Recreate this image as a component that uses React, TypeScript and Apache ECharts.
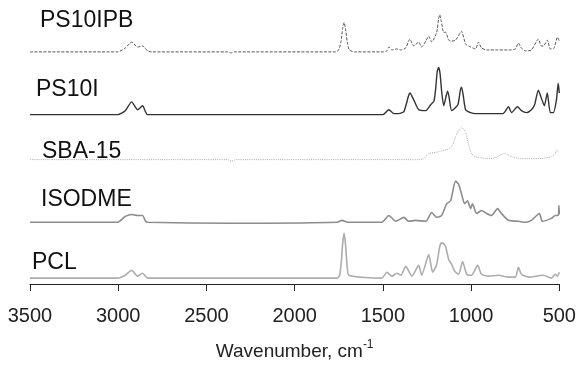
import React, { useEffect, useRef } from "react";
import * as echarts from "echarts";

// Spectrum names (top to bottom)
const names = ["PS10IPB", "PS10I", "SBA-15", "ISODME", "PCL"];

// Vertical stacking offsets (absorbance units, arbitrary)
const offsets = [237, 173, 127, 63, 6];

// [wavenumber cm-1, relative intensity]
const ps10ipb: [number, number][] = [
  [3500, 0], [3003, 0], [2960, 4], [2924, 10], [2890, 5], [2862, 6], [2833, 1], [2811, 0],
  [2380, 0], [2359, -1], [2340, 0], [1770, 0], [1750, 2], [1738, 10], [1728, 24], [1720, 30],
  [1712, 24], [1702, 10], [1690, 2], [1660, 0], [1500, 0], [1477, 1], [1466, 5], [1449, 2],
  [1421, 3], [1398, 2], [1370, 4], [1355, 11], [1347, 13], [1325, 6], [1297, 10], [1280, 5],
  [1257, 11], [1240, 16], [1223, 10], [1195, 20], [1184, 34], [1178, 38], [1170, 32], [1155, 20],
  [1144, 20], [1127, 12], [1110, 11], [1088, 12], [1060, 20], [1054, 21], [1031, 8], [1003, 5],
  [975, 3], [958, 10], [941, 4], [912, 2], [850, 2], [771, 2], [749, 3], [732, 9],
  [715, 4], [692, 1], [658, 2], [619, 13], [602, 6], [590, 6], [568, 12], [551, 3],
  [534, 3], [517, 12], [511, 15], [500, 11],
];

const ps10i: [number, number][] = [
  [3500, 0], [3003, 0], [2960, 4], [2924, 13], [2890, 5], [2862, 9], [2833, 0], [1500, 0],
  [1466, 5], [1438, 1], [1410, 1], [1381, 3], [1355, 19], [1347, 22], [1325, 15], [1297, 5],
  [1257, 4], [1229, 10], [1210, 14], [1200, 28], [1192, 44], [1184, 48], [1176, 42], [1166, 22],
  [1155, 9], [1140, 20], [1133, 24], [1125, 18], [1110, 4], [1075, 10], [1062, 24], [1054, 28],
  [1045, 20], [1031, 5], [1003, 2], [975, 1], [820, 1], [788, 8], [771, 2], [737, 8],
  [715, 4], [686, 2], [658, 5], [640, 10], [619, 25], [602, 17], [585, 9], [568, 22],
  [551, 2], [534, 2], [517, 14], [506, 32], [500, 22],
];

const sba15: [number, number][] = [
  [3500, 0], [2380, 0], [2359, -1.5], [2330, 0], [1297, 0], [1268, 1], [1240, 6], [1184, 8],
  [1127, 11], [1105, 15], [1082, 26], [1054, 33], [1031, 28], [1014, 15], [997, 6], [975, 3],
  [901, 1], [862, 2], [816, 6], [805, 6], [771, 3], [715, 1], [619, 1], [545, 3],
  [523, 6], [515, 10], [506, 8], [500, 8],
];

const isodme: [number, number][] = [
  [3500, 0], [3003, 0], [2960, 6], [2924, 8], [2890, 7], [2862, 7], [2845, 1], [2833, 0],
  [2360, -1], [1760, 0], [1732, 2], [1700, 0], [1506, 0], [1466, 7], [1427, 1], [1381, 5],
  [1353, 1], [1314, 2], [1257, 1], [1223, 10], [1195, 5], [1167, 7], [1138, 19], [1116, 22],
  [1088, 42], [1071, 39], [1054, 29], [1037, 19], [1020, 22], [1003, 14], [992, 19], [969, 9],
  [941, 12], [912, 9], [884, 7], [850, 14], [828, 9], [788, 2], [732, 1], [692, 0],
  [658, 2], [613, 9], [596, 1], [545, 4], [523, 7], [506, 7], [502, 17], [500, 8],
];

const pcl: [number, number][] = [
  [3500, 0], [3003, 0], [2960, 3], [2924, 8], [2890, 2], [2862, 5], [2833, 0], [1760, 0],
  [1745, 3], [1735, 18], [1728, 35], [1720, 46], [1712, 35], [1704, 16], [1692, 3], [1506, 0],
  [1477, 6], [1449, 2], [1421, 5], [1398, 3], [1370, 12], [1336, 2], [1297, 13], [1280, 3],
  [1240, 24], [1218, 6], [1195, 14], [1178, 32], [1167, 36], [1155, 35], [1144, 32], [1127, 19],
  [1110, 14], [1093, 7], [1071, 4], [1048, 17], [1025, 4], [997, 3], [963, 13], [941, 4],
  [901, 2], [845, 3], [788, 1], [749, 1], [732, 11], [715, 4], [675, 1], [590, 3],
  [545, 0], [523, 4], [511, 2], [500, 6],
];

const spectra = [ps10ipb, ps10i, sba15, isodme, pcl];

const xTicks = { min: 500, max: 3500, interval: 500 };

const lineStyles = [
  { color: "#555555", width: 1, type: [3, 1.5] as any },
  { color: "#333333", width: 1.4, type: "solid" as any },
  { color: "#a8a8a8", width: 1, type: [1, 1.2] as any },
  { color: "#8c8c8c", width: 1.6, type: "solid" as any },
  { color: "#adadad", width: 1.6, type: "solid" as any },
];

const labelPos = [
  { left: 40, cy: 20 },
  { left: 36, cy: 89 },
  { left: 42, cy: 151 },
  { left: 41, cy: 199 },
  { left: 32, cy: 262 },
];

export default function App() {
  const ref = useRef<HTMLDivElement>(null);
  useEffect(() => {
    if (!ref.current) return;
    const chart = echarts.init(ref.current, undefined, { renderer: "svg" });
    const font = "Liberation Sans, Arial, sans-serif";
    chart.setOption({
      animation: false,
      grid: { left: 30, right: 18, top: 0, bottom: 75 },
      xAxis: {
        type: "value",
        inverse: true,
        min: xTicks.min,
        max: xTicks.max,
        interval: xTicks.interval,
        axisLine: { show: true, lineStyle: { color: "#222", width: 1.2 } },
        axisTick: { show: true, length: 7, lineStyle: { color: "#222", width: 1 } },
        splitLine: { show: false },
        axisLabel: {
          color: "#222",
          fontSize: 20,
          fontFamily: font,
          margin: 21,
          formatter: (v: number) => String(v),
        },
        name: "{a|Wavenumber, cm}{b|-1}",
        nameLocation: "middle",
        nameGap: 54,
        nameTextStyle: {
          rich: {
            a: { fontSize: 19, lineHeight: 22, color: "#222", fontFamily: font, verticalAlign: "bottom" },
            b: { fontSize: 12, lineHeight: 12, color: "#222", fontFamily: font, verticalAlign: "top" },
          },
        },
      },
      yAxis: { type: "value", min: 0, max: 290, show: false },
      series: spectra.map((s, i) => ({
        type: "line",
        name: names[i],
        data: s.map(([w, v]) => [w, v + offsets[i]]),
        showSymbol: false,
        symbol: "none",
        smooth: 0.2,
        lineStyle: lineStyles[i],
        silent: true,
      })),
      graphic: names.map((n, i) => ({
        type: "text",
        left: labelPos[i].left,
        top: labelPos[i].cy - 13,
        style: { text: n, fontSize: 23, fontFamily: font, fill: "#111" },
      })),
    });
    return () => chart.dispose();
  }, []);
  return <div ref={ref} style={{ position: "fixed", left: 0, top: 0, width: 579, height: 365 }} />;
}
